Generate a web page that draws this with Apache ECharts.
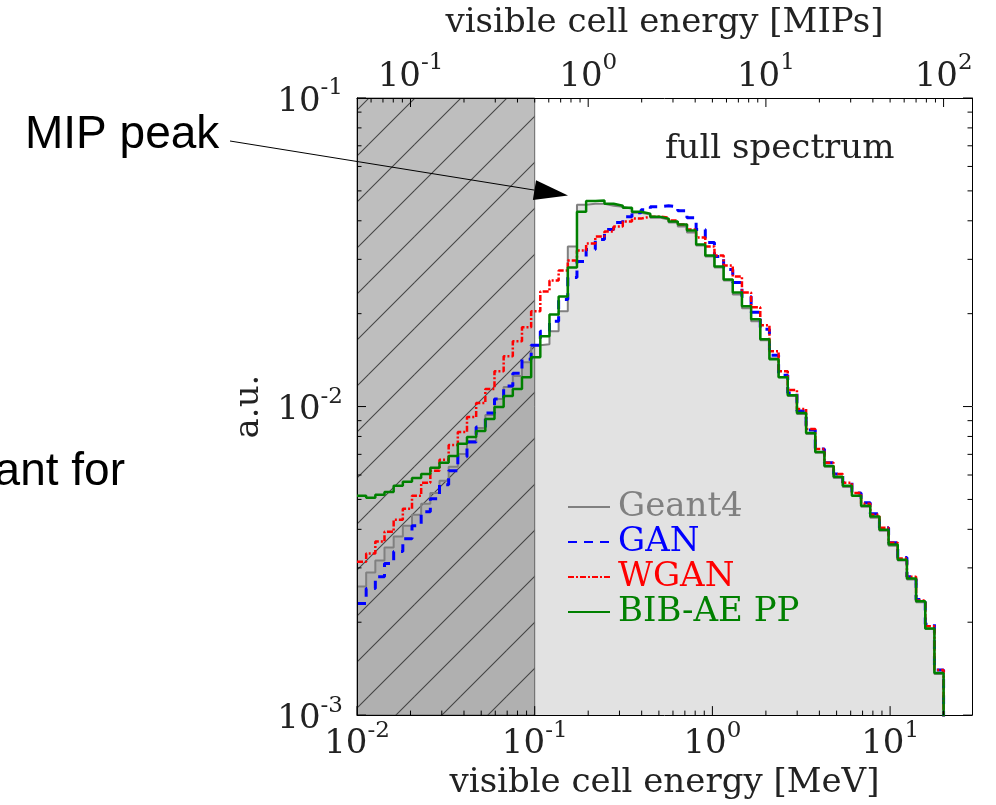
<!DOCTYPE html>
<html>
<head>
<meta charset="utf-8">
<script src="https://cdn.jsdelivr.net/npm/echarts@6/dist/echarts.min.js"></script>
<style>
html, body { margin: 0; padding: 0; background: #fff; }
#chart { width: 996px; height: 805px; }
</style>
</head>
<body>
<div id="chart"></div>
<script>
// histogram bin edges in MeV (64 log spaced bins)
const binEdges = [
  0.01, 0.011261, 0.012681, 0.01428, 0.016082, 0.01811, 0.020394, 0.022966,
  0.025862, 0.029123, 0.032796, 0.036931, 0.041588, 0.046833, 0.052738, 0.059388,
  0.066878, 0.07531, 0.084806, 0.0955, 0.10754, 0.1211, 0.13637, 0.15357,
  0.17293, 0.19474, 0.21929, 0.24695, 0.27808, 0.31315, 0.35264, 0.39711,
  0.44721, 0.50361, 0.56709, 0.63859, 0.71914, 0.80985, 0.91199, 1.027,
  1.1564, 1.3022, 1.4665, 1.6514, 1.8596, 2.0941, 2.3582, 2.6556,
  2.9905, 3.3676, 3.7922, 4.2704, 4.8089, 5.4153, 6.0982, 6.8672,
  7.7332, 8.7083, 9.8076, 11.044, 12.436, 14.005, 15.771, 17.76, 20.0
];

const geant4 = [
  0.00261, 0.00290, 0.00317, 0.00349, 0.00379, 0.00411, 0.00446, 0.00484,
  0.00525, 0.00575, 0.00638, 0.00702, 0.00774, 0.00852, 0.00939, 0.01057,
  0.01156, 0.01255, 0.01392, 0.01580, 0.01592, 0.01754, 0.02035, 0.03301,
  0.04511, 0.04544, 0.04544, 0.04478, 0.04444, 0.04379, 0.04250, 0.04188,
  0.04095, 0.04035, 0.03946, 0.03830, 0.03663, 0.03325, 0.03064, 0.02823,
  0.02563, 0.02309, 0.02081, 0.01889, 0.01640, 0.01435, 0.01245, 0.01081,
  0.00946, 0.00815, 0.00708, 0.00638, 0.00587, 0.00549, 0.00514, 0.00473,
  0.00436, 0.00396, 0.00354, 0.00317, 0.00275, 0.00232, 0.00190, 0.00136
];

const gan = [
  0.00230, 0.00257, 0.00281, 0.00310, 0.00339, 0.00373, 0.00411, 0.00456,
  0.00503, 0.00558, 0.00619, 0.00687, 0.00768, 0.00859, 0.00953, 0.01057,
  0.01165, 0.01283, 0.01424, 0.01580, 0.01754, 0.01889, 0.02225, 0.02621,
  0.02952, 0.03228, 0.03477, 0.03745, 0.03946, 0.04126, 0.04250, 0.04346,
  0.04444, 0.04478, 0.04444, 0.04314, 0.04095, 0.03745, 0.03400, 0.03064,
  0.02781, 0.02525, 0.02275, 0.02020, 0.01780, 0.01467, 0.01264, 0.01106,
  0.00967, 0.00840, 0.00729, 0.00657, 0.00605, 0.00566, 0.00525, 0.00488,
  0.00449, 0.00405, 0.00362, 0.00324, 0.00281, 0.00237, 0.00197, 0.00140
];

const wgan = [
  0.00314, 0.00334, 0.00365, 0.00393, 0.00430, 0.00466, 0.00514, 0.00566,
  0.00619, 0.00672, 0.00751, 0.00827, 0.00925, 0.01026, 0.01139, 0.01302,
  0.01456, 0.01628, 0.01807, 0.02035, 0.02361, 0.02563, 0.02761, 0.02974,
  0.03204, 0.03375, 0.03555, 0.03690, 0.03830, 0.03975, 0.04065, 0.04126,
  0.04126, 0.04095, 0.04005, 0.03887, 0.03745, 0.03529, 0.03301, 0.03087,
  0.02866, 0.02640, 0.02344, 0.02097, 0.01834, 0.01511, 0.01302, 0.01131,
  0.00982, 0.00846, 0.00729, 0.00657, 0.00605, 0.00566, 0.00525, 0.00484,
  0.00446, 0.00405, 0.00362, 0.00322, 0.00281, 0.00235, 0.00194, 0.00140
];

const bibAePP = [
  0.00514, 0.00506, 0.00518, 0.00529, 0.00554, 0.00570, 0.00587, 0.00605,
  0.00633, 0.00657, 0.00692, 0.00757, 0.00797, 0.00833, 0.00911, 0.00996,
  0.01081, 0.01139, 0.01245, 0.01445, 0.01690, 0.01986, 0.02275, 0.02823,
  0.04282, 0.04640, 0.04650, 0.04544, 0.04478, 0.04411, 0.04282, 0.04219,
  0.04126, 0.04065, 0.03975, 0.03887, 0.03718, 0.03350, 0.03087, 0.02844,
  0.02582, 0.02344, 0.02112, 0.01917, 0.01652, 0.01424, 0.01245, 0.01089,
  0.00953, 0.00821, 0.00713, 0.00642, 0.00592, 0.00554, 0.00514, 0.00477,
  0.00440, 0.00399, 0.00357, 0.00319, 0.00277, 0.00234, 0.00191, 0.00137
];

const mevPerMip = 0.2;
const cutEnergy = 0.1;          // hatched region: below half a MIP
const xRange = [0.01, 28.9];    // MeV
const yRange = [0.001, 0.1];
const mevTicks = [0.01, 0.1, 1, 10];
const mipTicks = [0.1, 1, 10, 100];
const auTicks = [0.001, 0.01, 0.1];
const mipPeakTip = [0.154, 0.0483];

const serif = 'DejaVu Serif';
const sans = 'Liberation Sans';
const fontSize = 34;

function minorTicks(lo, hi) {
    const out = [];
    for (let d = Math.floor(Math.log10(lo)); d <= Math.ceil(Math.log10(hi)); d++) {
        for (let m = 2; m <= 9; m++) {
            const v = m * Math.pow(10, d);
            if (v > lo * 1.0001 && v < hi * 0.9999) out.push(v);
        }
    }
    return out;
}

function powLabel(v) {
    const e = Math.log10(v);
    if (Math.abs(e - Math.round(e)) > 1e-6) return '';
    return '{b|10}{s|' + Math.round(e) + '}';
}

const labelRich = {
    b: { fontFamily: serif, fontSize: fontSize, color: '#222', lineHeight: 42, verticalAlign: 'bottom' },
    s: { fontFamily: serif, fontSize: 23, color: '#222', lineHeight: 24, verticalAlign: 'top' }
};

function stepData(values) {
    const floor = 1e-5;
    const pts = [];
    values.forEach((v, i) => pts.push([binEdges[i], v]));
    pts.push([binEdges[values.length], values[values.length - 1]]);
    pts.push([binEdges[values.length], floor]);
    return pts;
}

// tick marks on all four sides: [x, y, side, length]
const tickRows = [];
mevTicks.forEach(v => tickRows.push([v, yRange[0], 0, 9]));
minorTicks(xRange[0], xRange[1]).forEach(v => tickRows.push([v, yRange[0], 0, 4.5]));
mipTicks.forEach(v => tickRows.push([v * mevPerMip, yRange[0], 1, 9]));
minorTicks(xRange[0] / mevPerMip, xRange[1] / mevPerMip).forEach(v => tickRows.push([v * mevPerMip, yRange[0], 1, 4.5]));
auTicks.forEach(v => { tickRows.push([xRange[0], v, 2, 9]); tickRows.push([xRange[0], v, 3, 9]); });
minorTicks(yRange[0], yRange[1]).forEach(v => { tickRows.push([xRange[0], v, 2, 4.5]); tickRows.push([xRange[0], v, 3, 4.5]); });

function hatchPattern() {
    const size = 46;
    const c = document.createElement('canvas');
    c.width = size;
    c.height = size;
    const ctx = c.getContext('2d');
    ctx.fillStyle = 'rgba(125,125,125,0.5)';
    ctx.fillRect(0, 0, size, size);
    ctx.strokeStyle = 'rgba(40,40,40,0.8)';
    ctx.lineWidth = 1.1;
    [-39, 7, 53, 99].forEach(k => {
        ctx.beginPath();
        ctx.moveTo(-10, k + 10);
        ctx.lineTo(k + 10, -10);
        ctx.stroke();
    });
    return { image: c, repeat: 'repeat' };
}

function logAxis(extra) {
    return Object.assign({
        type: 'log',
        logBase: 10,
        z: 5,
        splitLine: { show: false },
        axisTick: { show: false },
        axisLine: { show: true, lineStyle: { color: '#000', width: 1 } },
        axisLabel: { formatter: powLabel, rich: labelRich, margin: 4 },
        nameTextStyle: { fontFamily: serif, fontSize: fontSize, color: '#222' }
    }, extra);
}

function lineSeries(name, values, color, width, type, z) {
    return {
        name: name,
        type: 'line',
        step: 'end',
        symbol: 'none',
        data: stepData(values),
        lineStyle: { color: color, width: width, type: type },
        itemStyle: { color: color },
        z: z,
        silent: true
    };
}

const chart = echarts.init(document.getElementById('chart'));
const hatch = hatchPattern();

const option = {
    animation: false,
    backgroundColor: '#fff',
    grid: { left: 357, right: 24, top: 98, bottom: 88 },
    xAxis: [
        logAxis({
            min: xRange[0], max: xRange[1], position: 'bottom',
            name: 'visible cell energy [MeV]', nameLocation: 'middle', nameGap: 50
        }),
        logAxis({
            min: xRange[0] / mevPerMip, max: xRange[1] / mevPerMip, position: 'top',
            name: 'visible cell energy [MIPs]', nameLocation: 'middle', nameGap: 58
        })
    ],
    yAxis: [
        logAxis({
            min: yRange[0], max: yRange[1], position: 'left',
            name: 'a.u.', nameLocation: 'middle', nameGap: 82,
            axisLabel: { formatter: powLabel, rich: labelRich, margin: 14 }
        }),
        logAxis({
            min: yRange[0], max: yRange[1], position: 'right',
            axisLabel: { show: false }
        })
    ],
    legend: {
        orient: 'vertical',
        left: 562,
        top: 485,
        itemWidth: 42,
        itemHeight: 14,
        itemGap: 1,
        itemStyle: { opacity: 0 },
        textStyle: { fontFamily: serif, fontSize: fontSize, padding: [0, 0, 0, 3] },
        data: [
            { name: 'Geant4', textStyle: { color: '#808080' } },
            { name: 'GAN', textStyle: { color: '#0000ff' } },
            { name: 'WGAN', textStyle: { color: '#ff0000' } },
            { name: 'BIB-AE PP', textStyle: { color: '#008000' } }
        ]
    },
    series: [
        {
            name: 'Geant4 fill',
            type: 'line',
            step: 'end',
            symbol: 'none',
            data: stepData(geant4),
            lineStyle: { width: 0 },
            areaStyle: { color: '#e2e2e2', opacity: 1, origin: 'start' },
            z: 1,
            silent: true
        },
        {
            name: 'cut region',
            type: 'custom',
            data: [[xRange[0], yRange[1], cutEnergy, yRange[0]]],
            encode: { x: [0, 2], y: [1, 3] },
            renderItem: function (params, api) {
                const p0 = api.coord([api.value(0), api.value(1)]);
                const p1 = api.coord([api.value(2), api.value(3)]);
                return {
                    type: 'rect',
                    shape: { x: p0[0], y: p0[1], width: p1[0] - p0[0], height: p1[1] - p0[1] },
                    style: { fill: hatch, stroke: 'rgba(90,90,90,0.9)', lineWidth: 1 }
                };
            },
            z: 2,
            silent: true
        },
        lineSeries('Geant4', geant4, '#808080', 2, 'solid', 3),
        lineSeries('GAN', gan, '#0000ff', 3, [9, 7], 4),
        lineSeries('WGAN', wgan, '#ff0000', 2.5, [6, 2, 2, 2], 5),
        lineSeries('BIB-AE PP', bibAePP, '#008000', 2.5, 'solid', 6),
        {
            name: 'ticks',
            type: 'custom',
            data: tickRows,
            encode: { x: 0, y: 1 },
            renderItem: function (params, api) {
                const p = api.coord([api.value(0), api.value(1)]);
                const side = api.value(2);
                const len = api.value(3);
                const g = params.coordSys;
                let s;
                if (side === 0) s = { x1: p[0], y1: g.y + g.height, x2: p[0], y2: g.y + g.height - len };
                else if (side === 1) s = { x1: p[0], y1: g.y, x2: p[0], y2: g.y + len };
                else if (side === 2) s = { x1: g.x, y1: p[1], x2: g.x + len, y2: p[1] };
                else s = { x1: g.x + g.width, y1: p[1], x2: g.x + g.width - len, y2: p[1] };
                return { type: 'line', shape: s, style: { stroke: '#000', lineWidth: 1 } };
            },
            z: 7,
            silent: true
        }
    ]
};

chart.setOption(option);

// slide annotations around the plot
const tip = chart.convertToPixel({ gridIndex: 0 }, mipPeakTip);
const tail = [230, 141];
const ang = Math.atan2(tip[1] - tail[1], tip[0] - tail[0]);
const headLen = 34, headHalf = 10;
const base = [tip[0] - headLen * Math.cos(ang), tip[1] - headLen * Math.sin(ang)];
const nx = -Math.sin(ang), ny = Math.cos(ang);

chart.setOption({
    graphic: [
        {
            type: 'text',
            style: { text: 'full spectrum', x: 665, y: 149, font: fontSize + 'px "DejaVu Serif"', fill: '#222', textVerticalAlign: 'middle' }
        },
        {
            type: 'text',
            style: { text: 'MIP peak', x: 25, y: 135, font: '46px "' + sans + '"', fill: '#000', textVerticalAlign: 'middle' }
        },
        {
            type: 'text',
            style: { text: 'ant for', x: 125, y: 472, font: '46px "' + sans + '"', fill: '#000', textAlign: 'right', textVerticalAlign: 'middle' }
        },
        {
            type: 'line',
            shape: { x1: tail[0], y1: tail[1], x2: base[0], y2: base[1] },
            style: { stroke: '#000', lineWidth: 1 },
            z: 20
        },
        {
            type: 'polygon',
            shape: { points: [tip, [base[0] + nx * headHalf, base[1] + ny * headHalf], [base[0] - nx * headHalf, base[1] - ny * headHalf]] },
            style: { fill: '#000' },
            z: 20
        }
    ]
});
</script>
</body>
</html>
